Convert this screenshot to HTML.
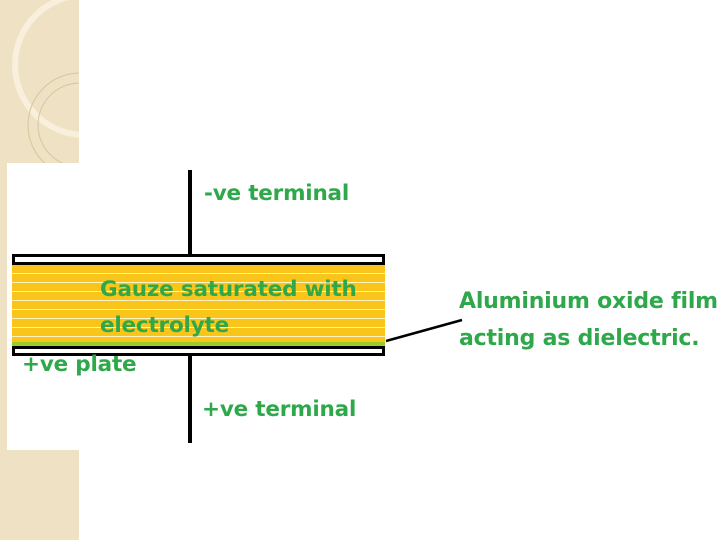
<!DOCTYPE html>
<html><head><style>
body{margin:0;width:720px;height:540px;position:relative;overflow:hidden;background:#fff;font-family:"DejaVu Sans","Liberation Sans",sans-serif}
.t{position:absolute;color:#2ea84a;font-weight:bold;font-size:21.5px;white-space:nowrap;letter-spacing:-0.2px}
</style></head><body>
<div style="position:absolute;left:0;top:0;width:79px;height:540px;background:#efe2c4"></div>
<svg style="position:absolute;left:0;top:0" width="79" height="170">
<circle cx="85" cy="65" r="70" fill="none" stroke="#f8f0dc" stroke-width="6"/>
<circle cx="80" cy="125" r="42" fill="none" stroke="#d8c49c" stroke-width="1"/>
<circle cx="80" cy="125" r="52" fill="none" stroke="#d8c49c" stroke-width="1"/>
</svg>
<div style="position:absolute;left:7px;top:163px;width:713px;height:287px;background:#fff"></div>
<div style="position:absolute;left:188px;top:170px;width:4px;height:86px;background:#000"></div>
<div style="position:absolute;left:188px;top:355px;width:4px;height:88px;background:#000"></div>
<div style="position:absolute;left:12px;top:254px;width:367px;height:5px;border:3px solid #000;background:#fff"></div>
<div style="position:absolute;left:12px;top:265px;width:373px;height:77px;background:#f9c51a;background-image:repeating-linear-gradient(to bottom,transparent 0,transparent 8px,#fff3c0 8px,#fff3c0 9px)"></div>
<div style="position:absolute;left:12px;top:342px;width:373px;height:4px;background:#9ccc2a"></div>
<div style="position:absolute;left:12px;top:346px;width:367px;height:4px;border:3px solid #000;background:#fff"></div>
<svg style="position:absolute;left:0;top:0" width="720" height="540"><line x1="386" y1="341" x2="462" y2="320" stroke="#000" stroke-width="2.5"/></svg>
<div class="t" style="left:204px;top:181px">-ve terminal</div>
<div class="t" style="left:100px;top:277px">Gauze saturated with</div>
<div class="t" style="left:100px;top:313px">electrolyte</div>
<div class="t" style="left:22px;top:352px">+ve plate</div>
<div class="t" style="left:202px;top:397px">+ve terminal</div>
<div class="t" style="left:459px;top:289px;font-size:22px">Aluminium oxide film</div>
<div class="t" style="left:459px;top:326px;font-size:22px">acting as dielectric.</div>
</body></html>
